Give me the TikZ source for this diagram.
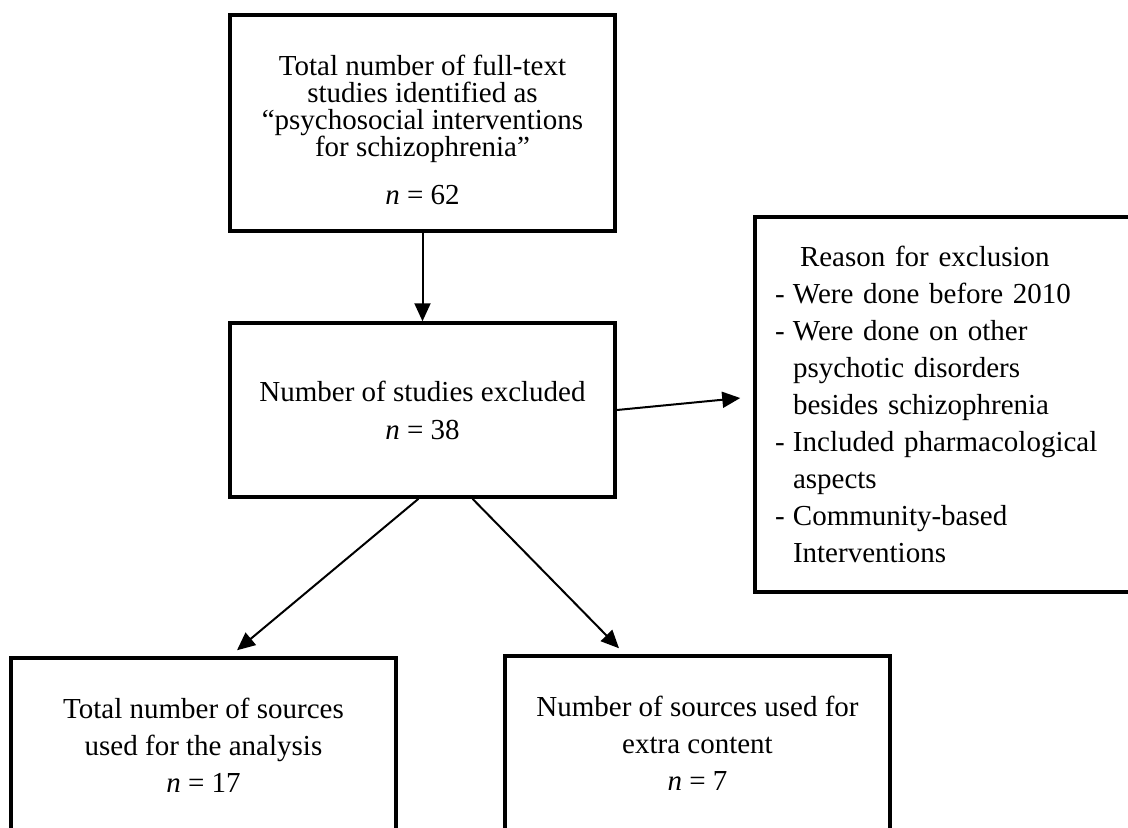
\documentclass[tikz,border=0pt]{standalone}
\usepackage{fontspec}
\setmainfont{Liberation Serif}
\usetikzlibrary{arrows.meta}

\begin{document}
\begin{tikzpicture}[x=0.5pt,y=-0.5pt,>={Triangle[length=9pt,width=8pt]},
    box/.style={draw,line width=1.75pt,minimum width=192.5pt,inner sep=0pt,align=center},
    flow/.style={->,line width=1pt}]
    \clip (0,0) rectangle (1128,827);
    \node[box,minimum height=108pt,font=\fontsize{14.5}{13.5}\selectfont] (total) at (422.5,123)
        {\rule{0pt}{17pt}Total number of full-text\\ studies identified as\\ “psychosocial interventions\\ for schizophrenia”\\[10.5pt] \textit{n} = 62};
    \node[box,minimum height=87pt,font=\fontsize{14.5}{19}\selectfont] (excl) [below of=total,node distance=143.5pt]
        {Number of studies excluded\\ \textit{n} = 38};
    \node[box,minimum height=187.5pt,text width=172.5pt,inner xsep=10pt,align=left,font=\fontsize{14.5}{18.5}\selectfont] (reason) [right of=excl,node distance=262.5pt,yshift=2.75pt]
        {\hspace*{12.5pt}Reason for exclusion\\
         \makebox[9pt][l]{-}Were done before 2010\\
         \makebox[9pt][l]{-}Were done on other\\
         \hspace*{9pt}psychotic disorders\\
         \hspace*{9pt}besides schizophrenia\\
         \makebox[9pt][l]{-}Included pharmacological\\
         \hspace*{9pt}aspects\\
         \makebox[9pt][l]{-}Community-based\\
         \hspace*{9pt}Interventions};
    \node[box,minimum height=87pt,font=\fontsize{14.5}{18.5}\selectfont] (used) [below of=excl,node distance=167.5pt,xshift=-109.5pt]
        {Total number of sources\\ used for the analysis\\ \textit{n} = 17};
    \node[box,minimum height=87pt,font=\fontsize{14.5}{18.5}\selectfont] (extra) [below of=excl,node distance=166.5pt,xshift=137.5pt]
        {Number of sources used for\\ extra content\\ \textit{n} = 7};

    \draw[flow] (total) -- (excl);
    \draw[flow] (excl.east) -- ([shift={(-13,-6.5)}]reason.west);
    \draw[flow] ([xshift=-2pt]excl.south) -- ([shift={(33.5,-6)}]used.north);
    \draw[flow] ([xshift=25pt]excl.south) -- ([shift={(-78.5,-6)}]extra.north);
\end{tikzpicture}
\end{document}
